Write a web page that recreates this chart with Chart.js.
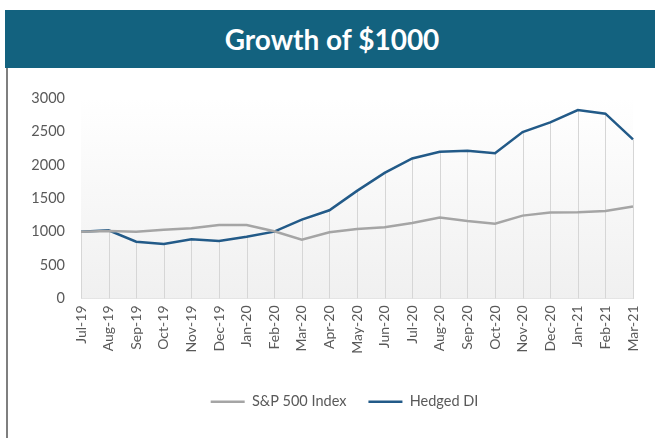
<!DOCTYPE html>
<html>
<head>
<meta charset="utf-8">
<script src="https://cdn.jsdelivr.net/npm/chart.js@4"></script>
<style>
  html, body { margin: 0; padding: 0; background: #ffffff; }
  body { width: 655px; height: 438px; position: relative; overflow: hidden; }
  #hdr { position: absolute; left: 5px; top: 10px; width: 650px; height: 58px; background: #13627f;
         color: #ffffff; font-family: Lato, "Open Sans", sans-serif; font-weight: bold; font-size: 28px;
         line-height: 58px; text-align: center; }
  #hdr span { position: relative; left: 2px; }
  #lb { position: absolute; left: 6px; top: 68px; width: 2px; height: 370px; background: #7f7f7f; }
  #wrap { position: absolute; left: 8px; top: 68px; width: 647px; height: 370px; }
</style>
</head>
<body>
<div id="hdr"><span>Growth of $1000</span></div>
<div id="lb"></div>
<div id="wrap"><canvas id="c"></canvas></div>
<script>
const categories = ['Jul-19','Aug-19','Sep-19','Oct-19','Nov-19','Dec-19','Jan-20','Feb-20','Mar-20','Apr-20',
  'May-20','Jun-20','Jul-20','Aug-20','Sep-20','Oct-20','Nov-20','Dec-20','Jan-21','Feb-21','Mar-21'];
const sp500 = [1000,1010,1000,1030,1050,1100,1100,1005,880,990,1040,1065,1130,1210,1160,1120,1240,1285,1290,1310,1375];
const hedgedDI = [1000,1020,850,815,885,860,925,1000,1180,1320,1610,1880,2095,2195,2210,2175,2490,2635,2820,2765,2380];
const yTicks = [0,500,1000,1500,2000,2500,3000];

const bgAndDrops = {
  id: 'bgAndDrops',
  afterLayout(chart) {
    // shift the legend block slightly right, as in the original
    if (chart.legend) { chart.legend.left += 19; chart.legend.right += 19; }
  },
  beforeDatasetsDraw(chart) {
    const { ctx, chartArea: a, scales } = chart;
    ctx.save();
    const g = ctx.createLinearGradient(0, a.top, 0, a.bottom);
    g.addColorStop(0, '#ffffff');
    g.addColorStop(1, '#f0f0f0');
    ctx.fillStyle = g;
    ctx.fillRect(a.left, a.top, a.right - a.left, a.bottom - a.top);
    ctx.strokeStyle = '#d6d6d6';
    ctx.lineWidth = 1;
    const y0 = scales.y.getPixelForValue(0);
    hedgedDI.forEach((v, i) => {
      const x = Math.round(scales.x.getPixelForValue(i)) + 0.5;
      const y = scales.y.getPixelForValue(v);
      ctx.beginPath();
      ctx.moveTo(x, y);
      ctx.lineTo(x, y0);
      ctx.stroke();
    });
    ctx.restore();
  }
};

const fam = 'Lato, "Open Sans", sans-serif';
new Chart(document.getElementById('c'), {
  type: 'line',
  data: {
    labels: categories,
    datasets: [
      { label: 'S&P 500 Index', data: sp500, borderColor: '#a5a5a5', backgroundColor: '#a5a5a5',
        borderWidth: 2.5, pointRadius: 0, tension: 0, fill: false },
      { label: 'Hedged DI', data: hedgedDI, borderColor: '#225a88', backgroundColor: '#225a88',
        borderWidth: 2.5, pointRadius: 0, tension: 0, fill: false }
    ]
  },
  options: {
    responsive: true,
    maintainAspectRatio: false,
    animation: false,
    layout: { padding: { top: 30, right: 22, left: 10, bottom: 19 } },
    plugins: {
      title: { display: false },
      tooltip: { enabled: false },
      legend: {
        position: 'bottom',
        labels: { usePointStyle: true, pointStyle: 'line', pointStyleWidth: 34, boxHeight: 14,
                  color: '#595959', font: { family: fam, size: 14.5 }, padding: 22 }
      }
    },
    scales: {
      x: {
        offset: false,
        grid: { display: false, drawTicks: false },
        border: { display: true, color: '#d9d9d9', width: 1 },
        ticks: { color: '#595959', font: { family: fam, size: 14 }, maxRotation: 90, minRotation: 90,
                 padding: 7, autoSkip: false },
        afterFit(s) { s.height = 74; s.paddingLeft = 0; s.paddingRight = 0; }
      },
      y: {
        min: 0, max: 3000,
        afterBuildTicks(s) { s.ticks = yTicks.map(v => ({ value: v })); },
        grid: { display: false, drawTicks: false },
        border: { display: false },
        ticks: { color: '#595959', font: { family: fam, size: 14.5 }, padding: 16, callback: v => String(v) },
        afterFit(s) { s.width = 63; s.paddingTop = 0; s.paddingBottom = 0; }
      }
    }
  },
  plugins: [bgAndDrops]
});
</script>
</body>
</html>
